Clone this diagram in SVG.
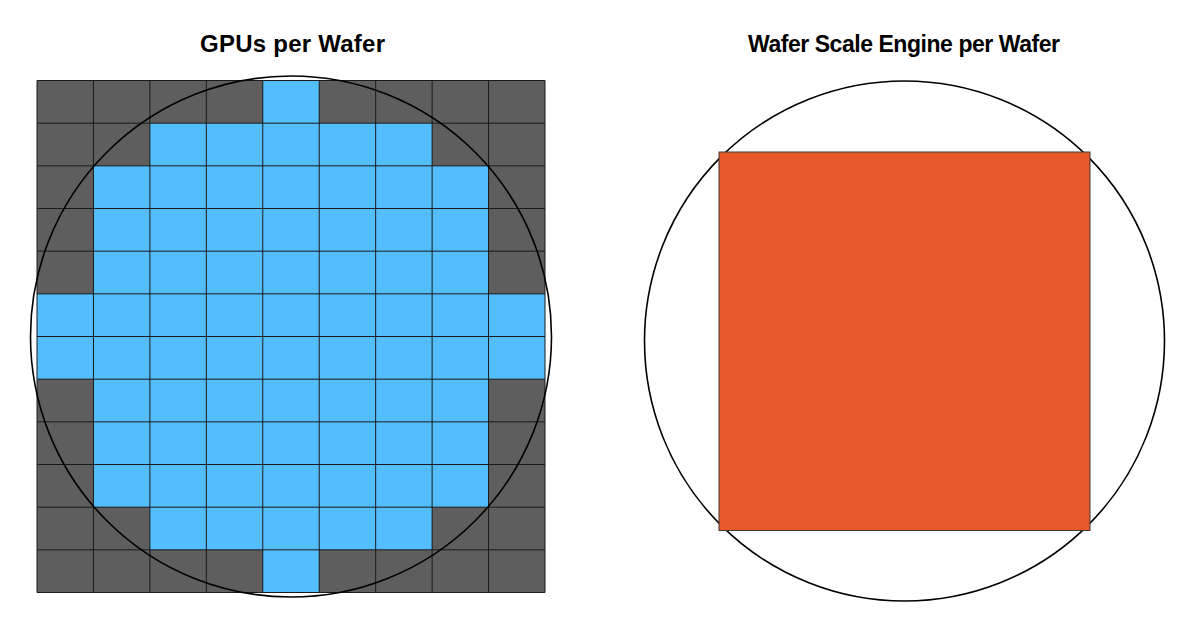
<svg xmlns="http://www.w3.org/2000/svg" width="1200" height="630" viewBox="0 0 1200 630">
<style>
.title{font-family:"Liberation Sans",Arial,sans-serif;font-weight:bold;fill:#000;text-anchor:middle}
.gray{fill:#5E5E5E}
.blue{fill:#54BEFD}
.grid{fill:none;stroke:#1a1a1a;stroke-width:1}
.wafer{fill:none;stroke:#000;stroke-width:1.6}
.wse{fill:#E8592A;stroke:#3a3a3a;stroke-width:1}
</style>
<rect x="0" y="0" width="1200" height="630" fill="#fff"/>
<g id="gpu-wafer">
<text class="title" x="292.5" y="51.5" font-size="24" textLength="185">GPUs per Wafer</text>
<rect class="gray" x="37" y="80.5" width="508" height="512"/>
<g id="gpu-dies">
<rect class="blue" x="262.78" y="80.5" width="56.44" height="42.67"/>
<rect class="blue" x="149.89" y="123.17" width="282.22" height="42.66"/>
<rect class="blue" x="93.44" y="165.83" width="395.12" height="128"/>
<rect class="blue" x="37" y="293.83" width="508" height="85.34"/>
<rect class="blue" x="93.44" y="379.17" width="395.12" height="128"/>
<rect class="blue" x="149.89" y="507.17" width="282.22" height="42.66"/>
<rect class="blue" x="262.78" y="549.83" width="56.44" height="42.67"/>
</g>
<path class="grid" d="M37 80.5V592.5M93.44 80.5V592.5M149.89 80.5V592.5M206.33 80.5V592.5M262.78 80.5V592.5M319.22 80.5V592.5M375.67 80.5V592.5M432.11 80.5V592.5M488.56 80.5V592.5M545 80.5V592.5M37 80.5H545M37 123.17H545M37 165.83H545M37 208.5H545M37 251.17H545M37 293.83H545M37 336.5H545M37 379.17H545M37 421.83H545M37 464.5H545M37 507.17H545M37 549.83H545M37 592.5H545"/>
<circle class="wafer" cx="291" cy="336.5" r="260.5"/>
</g>
<g id="wse-wafer">
<text class="title" x="904" y="51.5" font-size="23" textLength="312">Wafer Scale Engine per Wafer</text>
<circle class="wafer" cx="904.5" cy="341" r="260"/>
<rect class="wse" x="719" y="152" width="371" height="378.5"/>
</g>
</svg>
